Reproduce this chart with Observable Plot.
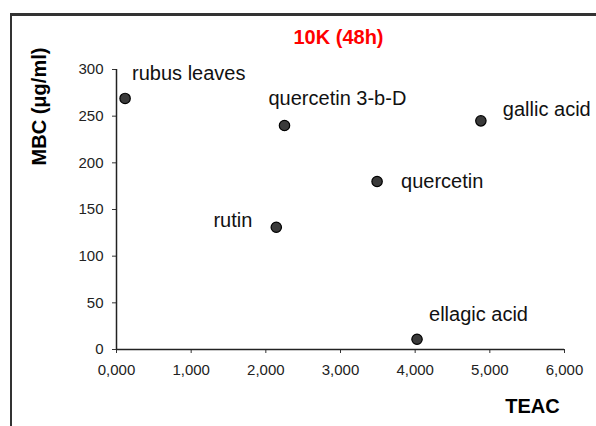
<!DOCTYPE html>
<html><head><meta charset="utf-8">
<script src="https://cdn.jsdelivr.net/npm/d3@7"></script>
<script src="https://cdn.jsdelivr.net/npm/@observablehq/plot@0.6"></script>
<style>
body{margin:0;background:#fff;}
#wrap{width:596px;height:426px;overflow:hidden;}
#wrap svg{display:block;}
</style></head><body>
<div id="wrap"></div>
<script>
// ---- data ----
const compounds = ["rubus leaves", "quercetin 3-b-D", "gallic acid", "quercetin", "rutin", "ellagic acid"];
const teac = [0.115, 2.25, 4.88, 3.49, 2.14, 4.025];
const mbc = [269, 240, 245, 180, 131, 11];
const xTicks = [0, 1, 2, 3, 4, 5, 6];
const yTicks = [0, 50, 100, 150, 200, 250, 300];
const title = "10K (48h)";
const xLabel = "TEAC";
const yLabel = "MBC (\u03bcg/ml)";

// ---- label placement (style) ----
const placement = {
  "rubus leaves":    {dx: 7,   dy: -25, anchor: "start"},
  "quercetin 3-b-D": {dx: -16, dy: -27, anchor: "start"},
  "gallic acid":     {dx: 22,  dy: -11, anchor: "start"},
  "quercetin":       {dx: 24,  dy: 0,   anchor: "start"},
  "rutin":           {dx: -24, dy: -7,  anchor: "end"},
  "ellagic acid":    {dx: 12,  dy: -25, anchor: "start"}
};

const rows = compounds.map((c, i) => ({name: c, x: teac[i], y: mbc[i]}));
const fmt = d => d3.format(".3f")(d).replace(".", ",");

const labelMarks = rows.map(r => {
  const p = placement[r.name];
  return Plot.text([r], {x: "x", y: "y", text: "name", dx: p.dx, dy: p.dy, textAnchor: p.anchor,
    fontSize: 20, fill: "#111", style: "letter-spacing:0.5px"});
});

const chart = Plot.plot({
  width: 596,
  height: 426,
  marginLeft: 116,
  marginRight: 32,
  marginTop: 69,
  marginBottom: 77,
  style: {fontFamily: "'Liberation Sans', Arial, sans-serif", fontSize: "15px", color: "#222", background: "#fff"},
  x: {domain: [0, 6], label: null},
  y: {domain: [0, 300], label: null},
  marks: [
    Plot.axisX({ticks: xTicks, tickFormat: fmt, tickSize: 4, tickPadding: 11, label: null, stroke: "#333"}),
    Plot.axisY({ticks: yTicks, tickSize: 4, tickPadding: 9, label: null, stroke: "#333"}),
    Plot.ruleY([0], {stroke: "#222", strokeWidth: 1.5}),
    Plot.ruleX([0], {stroke: "#222", strokeWidth: 1.5}),
    Plot.dot(rows, {x: "x", y: "y", r: 5.2, fill: "#3a3a3a", stroke: "#000", strokeWidth: 1.2}),
    ...labelMarks,
    Plot.text([title], {frameAnchor: "top", textAnchor: "middle", lineAnchor: "middle", dx: -2, dy: -32,
      fontSize: 20, fontWeight: "bold", fill: "#ff0000"}),
    Plot.text([yLabel], {frameAnchor: "left", textAnchor: "middle", lineAnchor: "middle", dx: -77, dy: -103,
      rotate: -90, fontSize: 20, fontWeight: "bold", fill: "#000"}),
    Plot.text([xLabel], {frameAnchor: "bottom-right", textAnchor: "middle", lineAnchor: "middle", dx: -32, dy: 57,
      fontSize: 20, fontWeight: "bold", fill: "#000"})
  ]
});
// decorative outer frame (top and left edges)
const svg = d3.select(chart);
svg.append("rect").attr("x", 10).attr("y", 13).attr("width", 600).attr("height", 3).attr("fill", "#333");
svg.append("rect").attr("x", 10).attr("y", 13).attr("width", 2).attr("height", 420).attr("fill", "#333");
document.getElementById("wrap").appendChild(chart);
</script>
</body></html>
